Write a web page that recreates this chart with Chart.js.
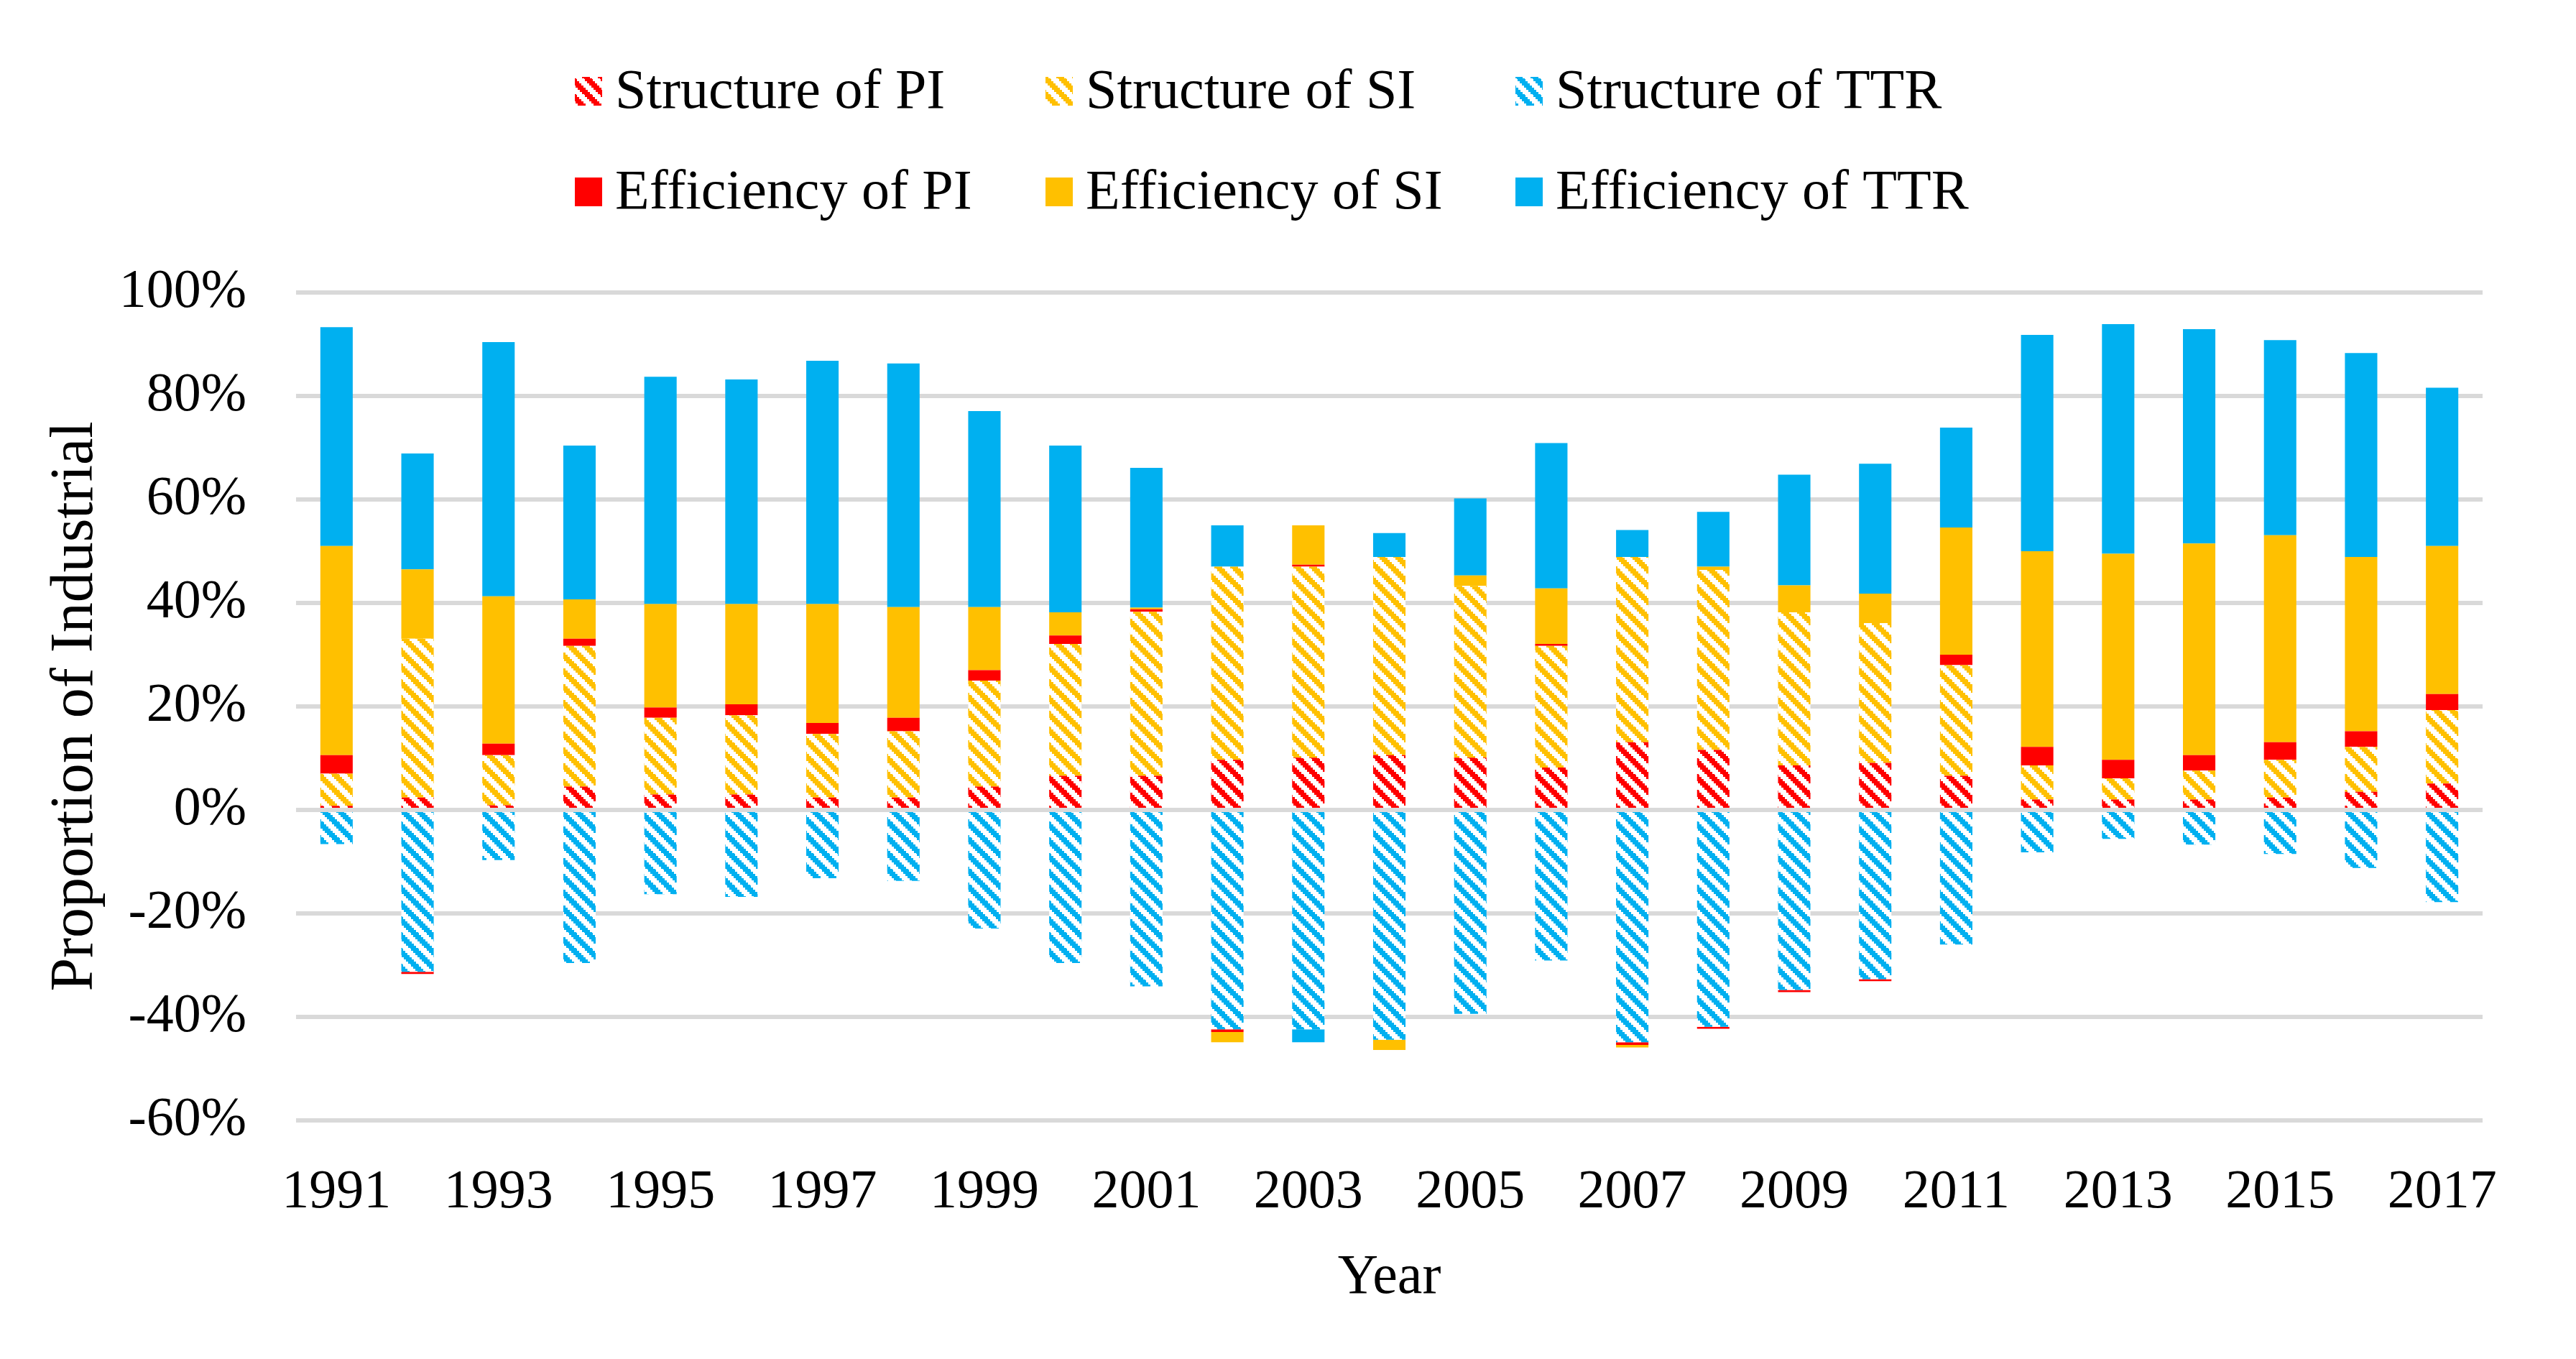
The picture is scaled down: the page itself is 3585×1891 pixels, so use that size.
<!DOCTYPE html>
<html>
<head>
<meta charset="utf-8">
<script src="https://cdn.jsdelivr.net/npm/chart.js@4.4.1/dist/chart.umd.min.js"></script>
<style>
  html, body { margin: 0; padding: 0; background: #fff; }
  canvas { display: block; }
</style>
</head>
<body>
<canvas id="chart" width="3585" height="1891"></canvas>
<script>
const years = ['1991','1992','1993','1994','1995','1996','1997','1998','1999','2000',
  '2001','2002','2003','2004','2005','2006','2007','2008','2009','2010',
  '2011','2012','2013','2014','2015','2016','2017'];

// values in %
const structurePI  = [0.8, 2.4, 0.9, 4.5, 3.0, 3.0, 2.4, 2.4, 4.5, 6.6, 6.6, 9.7, 10.1, 10.6, 10.1, 8.2, 13.1, 11.6, 8.6, 9.1, 6.6, 2.0, 2.0, 2.0, 2.4, 3.5, 5.1];
const structureSI  = [6.2, 30.7, 9.7, 27.2, 14.8, 15.3, 12.3, 12.8, 20.5, 25.5, 31.7, 37.3, 36.9, 38.3, 33.2, 23.5, 35.8, 34.8, 29.6, 27.0, 21.4, 6.6, 4.1, 5.6, 7.3, 8.7, 14.2];
const structureTTR = [-6.6, -31.3, -9.7, -29.6, -16.3, -16.8, -13.2, -13.7, -22.9, -29.6, -34.1, -42.4, -42.4, -44.4, -39.4, -29.1, -44.9, -41.9, -34.8, -32.7, -26.0, -8.2, -5.6, -6.7, -8.5, -11.2, -17.8];
const efficiencyPI  = [3.6, -0.4, 2.2, 1.4, 2.0, 2.1, 2.1, 2.6, 2.0, 1.6, 0.5, -0.5, 0.4, 0, 0, 0.4, -0.5, -0.4, -0.4, -0.4, 2.0, 3.6, 3.6, 3.0, 3.4, 3.0, 3.1];
const efficiencySI  = [40.4, 13.4, 28.5, 7.6, 20.0, 19.4, 23.0, 21.4, 12.2, 4.5, 0.3, -2.0, 7.6, -2.0, 2.0, 10.7, -0.5, 0.6, 5.2, 5.7, 24.6, 37.8, 39.8, 40.9, 40.0, 33.7, 28.6];
const efficiencyTTR = [42.3, 22.4, 49.1, 29.7, 43.9, 43.4, 47.0, 47.1, 37.9, 32.2, 27.0, 8.0, -2.5, 4.6, 14.9, 28.1, 5.2, 10.6, 21.4, 25.1, 19.3, 41.8, 44.4, 41.4, 37.7, 39.4, 30.6];

const RED = '#ff0000', YELLOW = '#ffc000', BLUE = '#00b0f0';
const FONT = 'Liberation Serif';

// diagonal "\" hatch like excel's wide downward diagonal
function hatch(color) {
  const n = 22;
  const c = document.createElement('canvas');
  c.width = n; c.height = n;
  const g = c.getContext('2d');
  g.fillStyle = '#fff';
  g.fillRect(0, 0, n, n);
  g.fillStyle = color;
  for (let y = 0; y < n; y += 3) {
    for (let k = 0; k < 11; k++) {
      g.fillRect((y + k) % n, y, 1, 3);
    }
  }
  return g.createPattern(c, 'repeat');
}

const datasets = [
  { label: 'Structure of PI', data: structurePI, backgroundColor: hatch(RED) },
  { label: 'Structure of SI', data: structureSI, backgroundColor: hatch(YELLOW) },
  { label: 'Structure of TTR', data: structureTTR, backgroundColor: hatch(BLUE) },
  { label: 'Efficiency of PI', data: efficiencyPI, backgroundColor: RED },
  { label: 'Efficiency of SI', data: efficiencySI, backgroundColor: YELLOW },
  { label: 'Efficiency of TTR', data: efficiencyTTR, backgroundColor: BLUE }
];

// two rows of three, drawn by hand
const legendPlugin = {
  id: 'twoRowLegend',
  afterDraw(chart) {
    const ctx = chart.ctx;
    const cols = [800, 1455, 2109];
    const rows = [{ top: 107, base: 150 }, { top: 247, base: 290 }];
    ctx.save();
    ctx.font = '78px "' + FONT + '"';
    ctx.textBaseline = 'alphabetic';
    chart.data.datasets.forEach((ds, i) => {
      const x = cols[i % 3], r = rows[Math.floor(i / 3)];
      ctx.fillStyle = ds.backgroundColor;
      ctx.fillRect(x, r.top, 38, 40);
      ctx.fillStyle = '#000';
      ctx.fillText(ds.label, x + 56, r.base);
    });
    ctx.restore();
  }
};

new Chart(document.getElementById('chart'), {
  type: 'bar',
  data: { labels: years, datasets: datasets },
  plugins: [legendPlugin],
  options: {
    responsive: false,
    animation: false,
    devicePixelRatio: 1,
    layout: { padding: { top: 407, right: 130, bottom: 0, left: 0 } },
    datasets: { bar: { categoryPercentage: 1, barPercentage: 0.4, borderWidth: 0 } },
    plugins: { legend: { display: false }, tooltip: { enabled: false } },
    scales: {
      x: {
        stacked: true,
        grid: { display: false, drawTicks: false },
        border: { display: false },
        afterFit: s => { s.height = 1891 - 1559; },
        ticks: {
          autoSkip: false,
          maxRotation: 0,
          padding: 55,
          color: '#000',
          font: { family: FONT, size: 76 },
          callback: function (v, i) { return i % 2 === 0 ? this.getLabelForValue(v) : ''; }
        },
        title: {
          display: true,
          text: 'Year',
          color: '#000',
          font: { family: FONT, size: 78 },
          padding: { top: 0, bottom: 66 }
        }
      },
      y: {
        stacked: true,
        min: -60,
        max: 100,
        afterFit: s => { s.width = 412; },
        grid: { color: '#d9d9d9', lineWidth: 6, drawTicks: false },
        border: { display: false },
        ticks: {
          stepSize: 20,
          padding: 69,
          color: '#000',
          font: { family: FONT, size: 76 },
          callback: v => v + '%'
        },
        title: {
          display: true,
          text: 'Proportion of Industrial',
          color: '#000',
          font: { family: FONT, size: 84 },
          padding: { top: 56, bottom: 0 }
        }
      }
    }
  }
});
</script>
</body>
</html>
